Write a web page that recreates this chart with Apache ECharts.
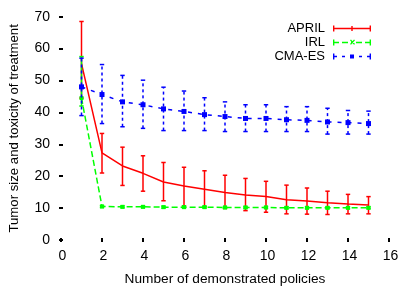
<!DOCTYPE html>
<html>
<head>
<meta charset="utf-8">
<script src="https://cdn.jsdelivr.net/npm/echarts@6/dist/echarts.min.js"></script>
<style>html,body{margin:0;padding:0;background:#fff}#c{width:415px;height:291px}</style>
</head>
<body>
<div id="c"></div>
<script>
const xs = [1,2,3,4,5,6,7,8,9,10,11,12,13,14,15];
const aprilMean = [55.3,27.3,23.2,20.9,18.2,16.9,15.9,14.9,14.1,13.6,12.6,12.2,11.7,11.3,11.0];
const aprilHigh = [68.5,33.4,29.1,26.4,24.3,22.8,21.7,20.3,19.3,18.4,17.2,16.3,15.3,14.3,13.6];
const aprilLow  = [44.5,21.0,17.1,15.3,12.3,10.7,10.4,9.9,9.2,8.7,8.2,8.1,8.0,8.2,8.2];
const irlMean = [44.5,10.5,10.4,10.4,10.3,10.3,10.3,10.2,10.2,10.2,10.1,10.1,10.1,10.1,10.1];
const irlHigh = [57.5,10.8,10.7,10.7,10.6,10.6,10.6,10.5,10.5,10.5,10.4,10.4,10.4,10.4,10.4];
const irlLow  = [42.0,10.2,10.1,10.1,10.0,10.0,10.0,9.9,9.9,9.9,9.8,9.8,9.8,9.8,9.8];
const cmaMean = [48.0,45.6,43.3,42.4,41.1,40.3,39.3,38.7,38.1,38.1,37.7,37.5,37.0,36.8,36.5];
const cmaHigh = [57.0,55.0,51.6,50.1,47.9,46.7,44.6,43.3,42.4,42.4,41.8,41.8,41.3,40.6,40.4];
const cmaLow  = [39.0,36.5,35.5,35.0,34.3,34.3,34.3,34.0,34.0,34.0,34.0,34.0,33.2,33.2,33.2];
const seriesNames = ['APRIL','IRL','CMA-ES'];
const xTitle = 'Number of demonstrated policies';
const yTitle = 'Tumor size and toxicity of treatment';

const FONT = "'Liberation Sans', Arial, Helvetica, sans-serif";
const RED = '#ff0000', GREEN = '#00ff00', BLUE = '#0000ff';

function pts(mean){ return xs.map((x,i)=>[x, mean[i]]); }
function bars(lo, hi){ return xs.map((x,i)=>[x, lo[i], hi[i]]); }

function errRender(color, dash){
  return function(params, api){
    const x = api.value(0);
    const p1 = api.coord([x, api.value(1)]);
    const p2 = api.coord([x, api.value(2)]);
    const st = {stroke: color, lineWidth: 1.5, lineDash: dash || null};
    const cst = {stroke: color, lineWidth: 1.5};
    const w = 2.2;
    return {type:'group', children:[
      {type:'line', shape:{x1:p1[0],y1:p1[1],x2:p2[0],y2:p2[1]}, style: st},
      {type:'line', shape:{x1:p1[0]-w,y1:p1[1],x2:p1[0]+w,y2:p1[1]}, style: cst},
      {type:'line', shape:{x1:p2[0]-w,y1:p2[1],x2:p2[0]+w,y2:p2[1]}, style: cst}
    ]};
  };
}

// legend icon paths in a 38 x 6 box
const iconApril = 'path://M0,0h1.4v6h-1.4zM36.6,0h1.4v6h-1.4zM0,2.3h38v1.4h-38zM18.3,0.5h1.4v5h-1.4z';
const iconIrl = 'path://M0,0h1.4v6h-1.4zM36.6,0h1.4v6h-1.4zM0,2.3h6v1.4h-6zM9,2.3h6v1.4h-6zM18,2.3h2v1.4h-2zM23,2.3h6v1.4h-6zM32,2.3h6v1.4h-6zM17,0.8l1,-0.8l4,4.4l-1,0.8zM17,4.4l4,-4.4l1,0.8l-4,4.4z';
const iconCma = 'path://M0,0h1.4v6h-1.4zM36.6,0h1.4v6h-1.4zM0,2.3h4v1.4h-4zM9,2.3h3v1.4h-3zM17,1h4v4h-4zM26,2.3h3v1.4h-3zM34,2.3h4v1.4h-4z';

const chart = echarts.init(document.getElementById('c'), null, {renderer:'canvas'});
const tick = {show:true, inside:true, length:2, lineStyle:{color:'#000', width:2}};
chart.setOption({
  animation:false,
  backgroundColor:'#fff',
  grid:{left:61, right:26, top:16.7, bottom:46, containLabel:false},
  legend:{
    orient:'vertical', right:39, top:16.5, align:'right',
    itemWidth:38, itemHeight:6, itemGap:0, symbolKeepAspect:false,
    textStyle:{color:'#000', fontFamily:FONT, fontSize:13, lineHeight:14, padding:[0,3,0,0]},
    data:[
      {name:seriesNames[0], icon:iconApril},
      {name:seriesNames[1], icon:iconIrl},
      {name:seriesNames[2], icon:iconCma}
    ]
  },
  xAxis:[
    {type:'value', min:0, max:16, interval:2, position:'bottom',
     name:xTitle, nameLocation:'middle', nameGap:32,
     nameTextStyle:{color:'#000', fontFamily:FONT, fontSize:13.7},
     axisLine:{show:false}, axisTick:tick, splitLine:{show:false},
     axisLabel:{margin:9, color:'#000', fontFamily:FONT, fontSize:14, padding:[0,0,0,3]}},
    {type:'value', min:0, max:16, interval:2, position:'top',
     axisLine:{show:false}, axisTick:tick, splitLine:{show:false}, axisLabel:{show:false}}
  ],
  yAxis:[
    {type:'value', min:0, max:70, interval:10, position:'left',
     name:yTitle, nameLocation:'middle', nameGap:40,
     nameTextStyle:{color:'#000', fontFamily:FONT, fontSize:13.2},
     axisLine:{show:false}, axisTick:tick, splitLine:{show:false},
     axisLabel:{margin:11, color:'#000', fontFamily:FONT, fontSize:14, padding:[5,0,0,0]}},
    {type:'value', min:0, max:70, interval:10, position:'right',
     axisLine:{show:false}, axisTick:tick, splitLine:{show:false}, axisLabel:{show:false}}
  ],
  series:[
    {type:'custom', name:'APRIL-err', renderItem:errRender(RED), data:bars(aprilLow, aprilHigh), z:2, silent:true},
    {type:'line', name:seriesNames[0], data:pts(aprilMean), color:RED, symbol:'none',
     lineStyle:{color:RED, width:1.5}, z:3},
    {type:'custom', name:'IRL-err', renderItem:errRender(GREEN), data:bars(irlLow, irlHigh), z:4, silent:true},
    {type:'line', name:seriesNames[1], data:pts(irlMean), color:GREEN, symbol:'rect', symbolSize:4,
     itemStyle:{color:GREEN}, lineStyle:{color:GREEN, width:1.5, type:[6,3]}, z:5},
    {type:'custom', name:'CMA-err', renderItem:errRender(BLUE,[3,3]), data:bars(cmaLow, cmaHigh), z:6, silent:true},
    {type:'line', name:seriesNames[2], data:pts(cmaMean), color:BLUE, symbol:'rect', symbolSize:5,
     itemStyle:{color:BLUE}, lineStyle:{color:BLUE, width:1.5, type:[4,6]}, z:7}
  ]
});
</script>
</body>
</html>
